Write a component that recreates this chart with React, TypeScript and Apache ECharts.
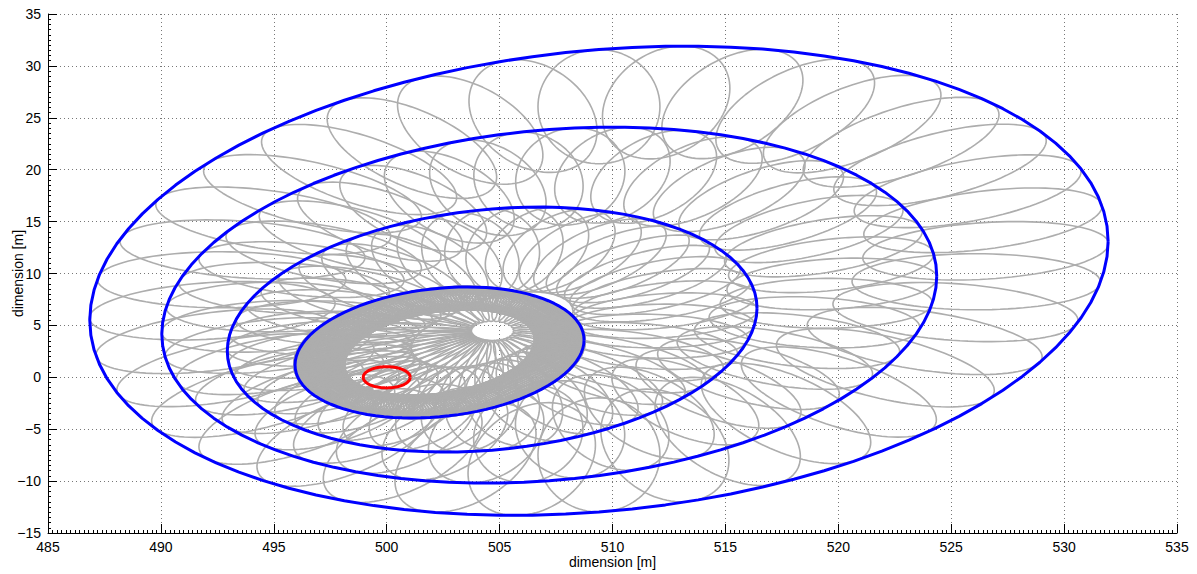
import React, { useEffect, useRef } from "react";
import * as echarts from "echarts";

// Axis ranges / ticks
const xMin = 485, xMax = 535, xStep = 5;
const yMin = -15, yMax = 35, yStep = 5;

// Blue envelope ellipses (metres):
// centre, half-extent in x, half-extent in y, y-offset at the right-most point
const envCx = [502.34, 504.67, 507.2, 509.4];
const envCy = [2.39, 4.6, 6.95, 9.3];
const envRx = [6.4, 11.73, 17.16, 22.55];
const envRy = [6.31, 11.8, 17.15, 22.6];
const envDy = [1.2, 2.07, 2.8, 3.8];

// Grey ellipse families hugging each envelope
const ringCount = [260, 48, 42, 36];
const ringRadial = [1.1, 4.2, 4.7, 5.5];      // semi-axis along the radius
const ringTangential = [1.6, 2.1, 2.4, 2.7];  // semi-axis across the radius
// long grey "spokes" of the innermost family, converging on a small hole
const spokeCount = 38;
const hubX = 504.68, hubY = 4.47, hubR = 0.92;

// Red initial ellipse
const redCx = 500.0, redCy = 0.0, redRx = 1.04, redRy = 1.02;

const STEPS = 96;

function envPoint(k: number, t: number): [number, number] {
  const sy = Math.sqrt(envRy[k] * envRy[k] - envDy[k] * envDy[k]);
  return [envRx[k] * Math.cos(t), envDy[k] * Math.cos(t) + sy * Math.sin(t)];
}

function envelope(k: number): number[][] {
  const pts: number[][] = [];
  for (let i = 0; i <= STEPS; i++) {
    const t = (2 * Math.PI * i) / STEPS;
    const [dx, dy] = envPoint(k, t);
    pts.push([envCx[k] + dx, envCy[k] + dy]);
  }
  return pts;
}

function orientedEllipse(mx: number, my: number, ux: number, uy: number, a: number, b: number): number[][] {
  const vx = -uy, vy = ux;
  const pts: number[][] = [];
  for (let i = 0; i <= STEPS; i++) {
    const s = (2 * Math.PI * i) / STEPS;
    const c = Math.cos(s), sn = Math.sin(s);
    pts.push([mx + a * c * ux + b * sn * vx, my + a * c * uy + b * sn * vy]);
  }
  return pts;
}

function greyFamily(k: number): number[][][] {
  const out: number[][][] = [];
  const n = ringCount[k];
  for (let i = 0; i < n; i++) {
    const t = (2 * Math.PI * i) / n;
    const [ex, ey] = envPoint(k, t);
    const fx = envCx[k] + ex, fy = envCy[k] + ey;
    const L = Math.hypot(ex, ey);
    const ux = ex / L, uy = ey / L;
    const a = ringRadial[k], b = ringTangential[k];
    out.push(orientedEllipse(fx - a * ux, fy - a * uy, ux, uy, a, b));
  }
  return out;
}

function spokes(): number[][][] {
  const out: number[][][] = [];
  for (let i = 0; i < spokeCount; i++) {
    const t = (2 * Math.PI * (i + 0.5)) / spokeCount;
    const [ex, ey] = envPoint(0, t);
    const fx = envCx[0] + ex, fy = envCy[0] + ey;
    const dx = fx - hubX, dy = fy - hubY;
    const L = Math.hypot(dx, dy);
    const ux = dx / L, uy = dy / L;
    const nx = hubX + hubR * ux, ny = hubY + hubR * uy;
    const A = (L - hubR) / 2;
    const B = 0.14 * A + 0.15;
    out.push(orientedEllipse((fx + nx) / 2, (fy + ny) / 2, ux, uy, A, B));
  }
  return out;
}

function redEllipse(): number[][] {
  const pts: number[][] = [];
  for (let i = 0; i <= STEPS; i++) {
    const t = (2 * Math.PI * i) / STEPS;
    pts.push([redCx + redRx * Math.cos(t), redCy + redRy * Math.sin(t)]);
  }
  return pts;
}

export default function App() {
  const ref = useRef<HTMLDivElement>(null);
  useEffect(() => {
    if (!ref.current) return;
    const chart = echarts.init(ref.current, undefined, { renderer: "svg" });
    const series: any[] = [];
    const lineBase = { type: "line", showSymbol: false, symbol: "none", silent: true, animation: false, clip: true };
    const grey = { color: "#adadad", width: 1.6 };
    for (let k = 0; k < envCx.length; k++) {
      greyFamily(k).forEach((pts) => series.push({ ...lineBase, data: pts, lineStyle: grey, z: 2 }));
    }
    spokes().forEach((pts) => series.push({ ...lineBase, data: pts, lineStyle: grey, z: 2 }));
    for (let k = 0; k < envCx.length; k++) {
      series.push({ ...lineBase, data: envelope(k), lineStyle: { color: "#0000ff", width: 3 }, z: 3 });
    }
    series.push({ ...lineBase, data: redEllipse(), lineStyle: { color: "#ff0000", width: 3 }, z: 4 });

    const font = "Liberation Sans, Arial, sans-serif";
    const labelStyle = { color: "#000", fontSize: 14, fontFamily: font, margin: 7 };
    const nameStyle = { color: "#000", fontSize: 14, fontFamily: font };
    const split = { show: true, lineStyle: { color: "#777", width: 1, type: [1, 3] } };
    chart.setOption({
      animation: false,
      backgroundColor: "#fff",
      grid: { left: 48, right: 20, top: 14, bottom: 41, containLabel: false, outerBoundsMode: "none" },
      xAxis: {
        type: "value", min: xMin, max: xMax, interval: xStep,
        name: "dimension [m]", nameLocation: "middle", nameGap: 22, nameMoveOverlap: false, nameTextStyle: nameStyle,
        axisLine: { show: true, onZero: false, lineStyle: { color: "#000", width: 1 } },
        axisTick: { show: true, inside: true, length: 9, lineStyle: { color: "#000" } },
        minorTick: { show: true, splitNumber: 25, length: 3, lineStyle: { color: "#000" } },
        axisLabel: labelStyle,
        splitLine: split,
      },
      yAxis: {
        type: "value", min: yMin, max: yMax, interval: yStep,
        name: "dimension [m]", nameLocation: "middle", nameGap: 23, nameMoveOverlap: false, nameTextStyle: nameStyle,
        axisLine: { show: true, onZero: false, lineStyle: { color: "#000", width: 1 } },
        axisTick: { show: true, inside: true, length: 9, lineStyle: { color: "#000" } },
        minorTick: { show: true, splitNumber: 10, length: 3, lineStyle: { color: "#000" } },
        axisLabel: { ...labelStyle, formatter: (v: number) => (v < 0 ? "\u2212" + Math.abs(v) : String(v)) },
        splitLine: split,
      },
      series,
    });
    return () => chart.dispose();
  }, []);
  return <div ref={ref} style={{ position: "fixed", left: 0, top: 0, width: 1197, height: 574 }} />;
}
